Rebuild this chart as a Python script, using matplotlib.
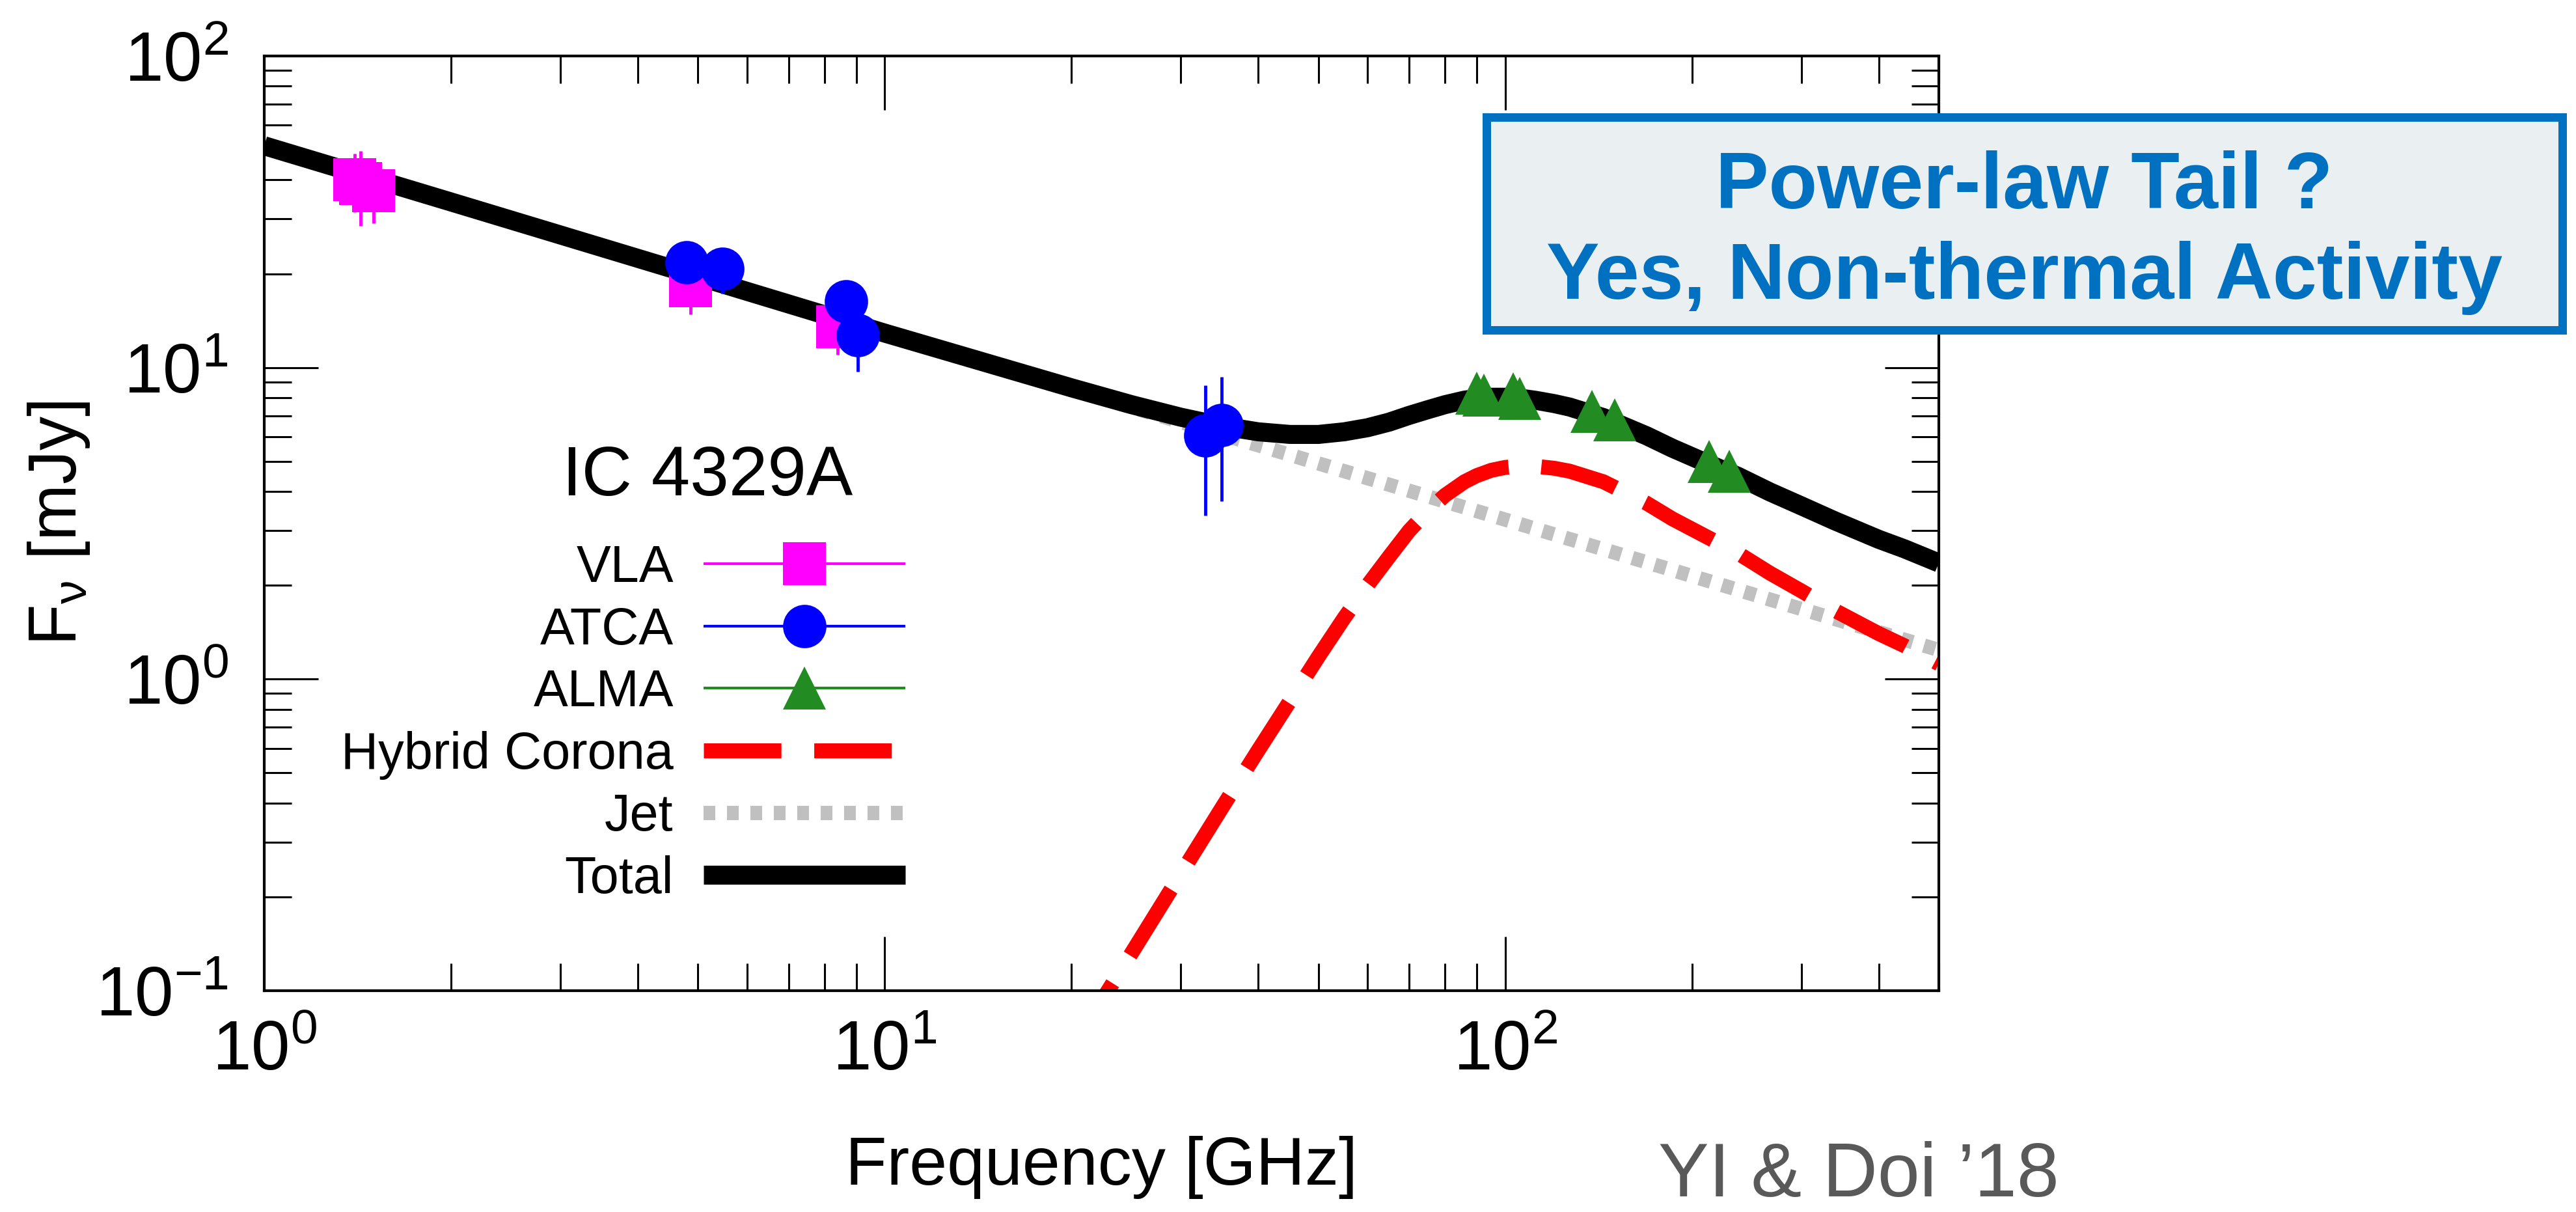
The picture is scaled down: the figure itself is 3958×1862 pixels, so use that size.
import numpy as np
import matplotlib.pyplot as plt
from matplotlib.container import ErrorbarContainer
from matplotlib.legend_handler import HandlerErrorbar
from matplotlib.patches import Rectangle
from matplotlib.ticker import LogLocator, NullFormatter

plt.rcParams['font.family'] = ['Liberation Sans', 'DejaVu Sans']
plt.rcParams['mathtext.fontset'] = 'custom'
plt.rcParams['mathtext.rm'] = 'Liberation Sans'
plt.rcParams['mathtext.it'] = 'Liberation Sans:italic'
plt.rcParams['mathtext.bf'] = 'Liberation Sans:bold'

# observed flux densities [GHz], [mJy]
vla_freq = [1.40, 1.43, 1.50, 4.86, 8.40]
vla_flux = [40.0, 39.0, 37.0, 18.3, 13.5]
vla_err = [8.5, 10.5, 8.0, 3.5, 2.5]

atca_freq = [4.80, 5.47, 8.66, 9.05, 32.9, 34.9]
atca_flux = [21.8, 20.7, 16.3, 12.7, 6.05, 6.53]
atca_err = [3.5, 3.4, 2.0, 3.0, 2.7, 2.8]

alma_freq = [90.0, 92.5, 103.0, 105.5, 138.0, 150.0, 213.0, 230.0]
alma_flux = [8.28, 8.15, 8.24, 7.95, 7.23, 6.79, 4.99, 4.64]
alma_err = [0.40, 0.40, 0.40, 0.40, 0.35, 0.33, 0.25, 0.23]

# model curves
jet_freq = [1, 3, 10, 30, 100, 300, 500]
jet_flux = [51.5, 26.6, 12.9, 6.69, 3.25, 1.68, 1.24]

corona_freq = [20, 25, 30, 35, 40, 45, 50, 55, 60, 65, 70, 75, 80, 86, 90,
               95, 100, 106, 112, 120, 127, 144, 169, 186, 210, 237, 267,
               300, 340, 400, 440, 500]
corona_flux = [0.065, 0.132, 0.237, 0.388, 0.591, 0.851, 1.18, 1.57, 2.00,
               2.47, 2.99, 3.46, 3.89, 4.30, 4.50, 4.68, 4.78, 4.83, 4.82,
               4.75, 4.65, 4.30, 3.67, 3.27, 2.88, 2.54, 2.19, 1.92, 1.66,
               1.40, 1.28, 1.12]

total_freq = [1, 2, 5, 10, 20, 25, 30, 35, 40, 45, 50, 55, 60, 65, 70, 75,
              80, 86, 90, 95, 100, 106, 112, 120, 127, 144, 169, 186, 210,
              237, 267, 300, 340, 400, 440, 500]
total_flux = [51.5, 34.0, 19.6, 12.9, 8.61, 7.60, 6.93, 6.49, 6.22, 6.10,
              6.10, 6.22, 6.41, 6.68, 7.02, 7.32, 7.60, 7.86, 7.96, 8.03,
              8.03, 7.97, 7.85, 7.66, 7.47, 6.91, 6.04, 5.51, 4.96, 4.48,
              3.99, 3.60, 3.22, 2.81, 2.62, 2.36]

W, H = 3958, 1862
fig = plt.figure(figsize=(W / 100, H / 100), dpi=100)
ax = fig.add_axes([406 / W, 1 - 1522 / H, 2573 / W, 1436 / H])

# models
h_jet, = ax.plot(jet_freq, jet_flux, color='#c0c0c0', lw=15.8,
                 ls=(0, (0.82, 0.82)), dash_capstyle='butt')
h_corona, = ax.plot(corona_freq, corona_flux, color='#ff0000', lw=16.5,
                    ls=(0, (5.2, 2.2)))
h_total, = ax.plot(total_freq, total_flux, color='black', lw=21,
                   solid_capstyle='butt')

# data
eb = dict(ms=48, mew=0, elinewidth=3.5, capsize=15, capthick=3.5, ls='none')
ax.errorbar(vla_freq, vla_flux, yerr=vla_err, fmt='s', color='#ff00ff', **eb)
ax.errorbar(atca_freq, atca_flux, yerr=atca_err, fmt='o', color='#0000ff', **eb)
ax.errorbar(alma_freq, alma_flux, yerr=alma_err, fmt='^', color='#228b22', **eb)

# legend proxies with horizontal error bars
leg_eb = dict(ms=48, mew=0, elinewidth=3, capsize=15, capthick=3, ls='none')
p_vla = ax.errorbar([np.nan], [np.nan], xerr=[1.0], fmt='s', color='#ff00ff', **leg_eb)
p_atca = ax.errorbar([np.nan], [np.nan], xerr=[1.0], fmt='o', color='#0000ff', **leg_eb)
p_alma = ax.errorbar([np.nan], [np.nan], xerr=[1.0], fmt='^', color='#228b22', **leg_eb)

ax.set_xscale('log')
ax.set_yscale('log')
ax.set_xlim(1, 500)
ax.set_ylim(0.1, 100)

for axis in (ax.xaxis, ax.yaxis):
    axis.set_major_locator(LogLocator(base=10, numticks=10))
    axis.set_minor_locator(LogLocator(base=10, subs=np.arange(2, 10), numticks=50))
    axis.set_minor_formatter(NullFormatter())

ax.tick_params(which='both', direction='in', top=True, right=True, width=2.2)
ax.tick_params(which='major', length=60, labelsize=77)
ax.tick_params(axis='x', which='major', pad=32)
ax.tick_params(axis='y', which='major', pad=40)
ax.tick_params(which='minor', length=30)
for sp in ax.spines.values():
    sp.set_linewidth(3)

ax.set_xlabel('Frequency [GHz]', fontsize=75)
ax.xaxis.set_label_coords(0.5, -0.155)
ax.set_ylabel(r'F$_\mathregular{ν}$ [mJy]', fontsize=75)
ax.yaxis.set_label_coords(-0.103, 0.5)

ax.legend([p_vla, p_atca, p_alma, h_corona, h_jet, h_total],
          ['VLA', 'ATCA', 'ALMA', 'Hybrid Corona', 'Jet', 'Total'],
          handler_map={ErrorbarContainer: HandlerErrorbar(xerr_size=1.96)},
          loc='upper right', bbox_to_anchor=(1391 / W, 1 - 836 / H),
          bbox_transform=fig.transFigure, frameon=False, fontsize=57,
          markerfirst=False, numpoints=1, handlelength=3.92,
          handletextpad=0.58, labelspacing=0.26, borderpad=0,
          borderaxespad=0)

fig.text(1087 / W, 1 - 761 / H, 'IC 4329A', fontsize=77, ha='center',
         va='baseline')

# callout box
lw_box = 13
fig.add_artist(Rectangle(((2277 + lw_box / 2) / W, 1 - (513 - lw_box / 2) / H),
                         (3943 - 2277 - lw_box) / W, (513 - 173 - lw_box) / H,
                         transform=fig.transFigure, facecolor='#eaeff2',
                         edgecolor='#0070c0', lw=lw_box * 0.72))
fig.text(3110 / W, 1 - 320 / H, 'Power-law Tail ?', fontsize=88,
         fontweight='bold', color='#0070c0', ha='center', va='baseline')
fig.text(3110 / W, 1 - 459 / H, 'Yes, Non-thermal Activity', fontsize=88,
         fontweight='bold', color='#0070c0', ha='center', va='baseline')

fig.text(2548 / W, 1 - 1838 / H, 'YI & Doi ’18', fontsize=84,
         color='#595959', ha='left', va='baseline')

fig.savefig('out.png', dpi=100)
